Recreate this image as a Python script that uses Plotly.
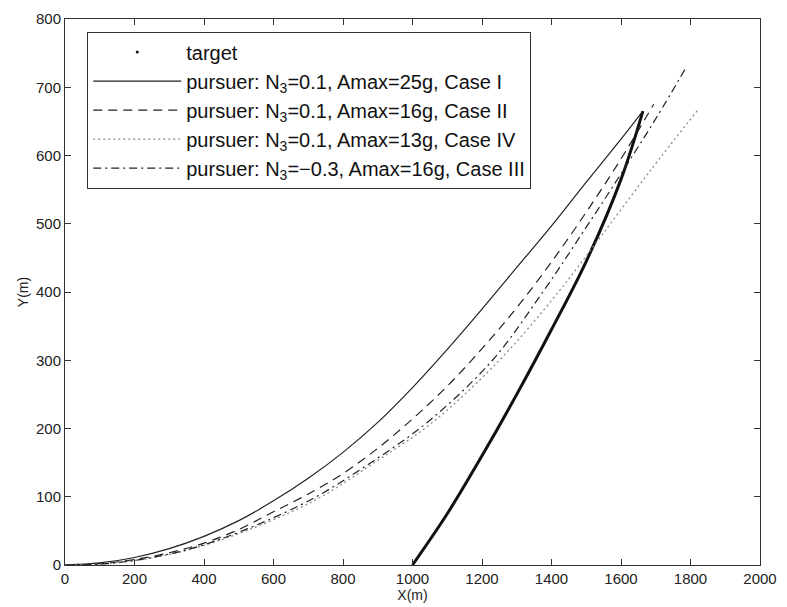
import plotly.graph_objects as go

# ---- data ----
target_x = [1000, 1100, 1200, 1300, 1400, 1500, 1600, 1663]
target_y = [0, 75, 160, 250, 345, 445, 565, 665]

case1_x = [0, 100, 200, 300, 400, 500, 600, 700, 800, 900, 1000, 1100, 1200, 1300, 1400, 1500, 1600, 1663]
case1_y = [0, 3, 11, 24, 42, 65, 94, 127, 165, 209, 260, 316, 375, 436, 497, 561, 624, 665]

case2_x = [0, 100, 200, 300, 400, 500, 600, 700, 800, 900, 1000, 1100, 1200, 1300, 1400, 1500, 1600, 1694]
case2_y = [0, 2, 8, 18, 32, 52, 78, 104, 134, 171, 214, 262, 317, 377, 444, 517, 595, 675]

case4_x = [0, 120, 245, 375, 520, 720, 890, 1060, 1250, 1420, 1540, 1680, 1823]
case4_y = [0, 2, 10, 25, 50, 95, 150, 210, 300, 400, 480, 575, 668]

case3_x = [0, 120, 240, 370, 510, 705, 880, 1045, 1230, 1375, 1500, 1615, 1705, 1786]
case3_y = [0, 2, 10, 25, 50, 95, 150, 210, 300, 400, 495, 585, 658, 728]

x_ticks = [0, 200, 400, 600, 800, 1000, 1200, 1400, 1600, 1800, 2000]
y_ticks = [0, 100, 200, 300, 400, 500, 600, 700, 800]

names = {
    "target": "target",
    "c1": "pursuer: N<sub>3</sub>=0.1, Amax=25g, Case I",
    "c2": "pursuer: N<sub>3</sub>=0.1, Amax=16g, Case II",
    "c4": "pursuer: N<sub>3</sub>=0.1, Amax=13g, Case IV",
    "c3": "pursuer: N<sub>3</sub>=\u22120.3, Amax=16g, Case III",
}

FONT = "Liberation Sans, Arial, Helvetica, sans-serif"

fig = go.Figure()

# target drawn as thick line (legend entry shown as a dot)
fig.add_trace(go.Scatter(x=target_x, y=target_y, mode="lines",
                         line=dict(color="#111111", width=3, shape="spline"),
                         showlegend=False, hoverinfo="skip"))
fig.add_trace(go.Scatter(x=[None], y=[None], mode="markers", name=names["target"],
                         marker=dict(color="#111111", size=3)))

fig.add_trace(go.Scatter(x=case1_x, y=case1_y, mode="lines", name=names["c1"],
                         line=dict(color="#222222", width=1.2, shape="spline")))
fig.add_trace(go.Scatter(x=case2_x, y=case2_y, mode="lines", name=names["c2"],
                         line=dict(color="#222222", width=1.2, dash="9px,6px", shape="spline")))
fig.add_trace(go.Scatter(x=case4_x, y=case4_y, mode="lines", name=names["c4"],
                         line=dict(color="#8a8a8a", width=1.3, dash="2px,3px", shape="spline")))
fig.add_trace(go.Scatter(x=case3_x, y=case3_y, mode="lines", name=names["c3"],
                         line=dict(color="#222222", width=1.2, dash="8px,4px,2px,4px", shape="spline")))

axis_common = dict(showgrid=False, zeroline=False, showline=True, linecolor="#333333",
                   linewidth=1, mirror="ticks", ticks="inside", ticklen=6,
                   tickcolor="#333333", tickfont=dict(family=FONT, size=15, color="#222222"))

fig.update_xaxes(range=[0, 2000], tickvals=x_ticks, ticktext=[str(v) for v in x_ticks],
                 title=dict(text="X(m)", font=dict(family=FONT, size=14, color="#222222"), standoff=0),
                 **axis_common)
fig.update_yaxes(range=[0, 800], tickvals=y_ticks, ticktext=[str(v) for v in y_ticks],
                 title=dict(text="Y(m)", font=dict(family=FONT, size=14, color="#222222"), standoff=4),
                 **axis_common)

fig.update_layout(
    width=787, height=607,
    margin=dict(l=65, r=20, t=10, b=42),
    plot_bgcolor="white", paper_bgcolor="white",
    font=dict(family=FONT, size=18, color="#111111"),
    legend=dict(x=0.032, y=0.977, xanchor="left", yanchor="top",
                bgcolor="white", bordercolor="#333333", borderwidth=1,
                font=dict(family=FONT, size=20, color="#111111"),
                itemwidth=88, tracegroupgap=0),
)

# remove the browser's default 8px body margin so the figure sits at the page corner
fig.write_html("out.html", config={"displayModeBar": False},
               post_script="document.body.style.margin='0px';")
